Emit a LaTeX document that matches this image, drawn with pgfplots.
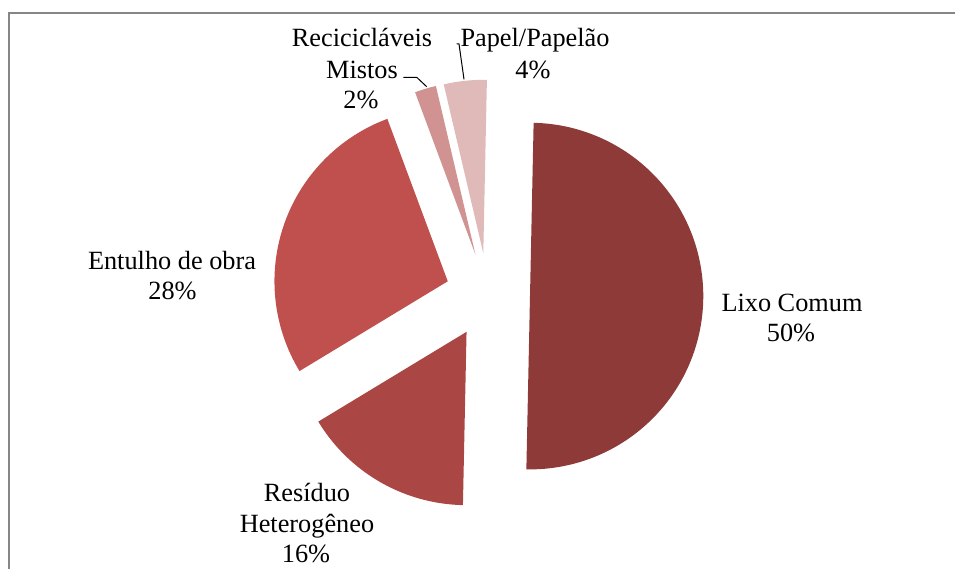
\documentclass[border=0pt]{standalone}
\usepackage{pgfplots}
\pgfplotsset{compat=1.18}
\usepackage{fontspec}
\setmainfont{Liberation Serif}
\definecolor{cLixo}{HTML}{8E3A38}
\definecolor{cRes}{HTML}{AA4644}
\definecolor{cEnt}{HTML}{C0504D}
\definecolor{cRec}{HTML}{D19391}
\definecolor{cPap}{HTML}{E0BAB9}
\definecolor{cFrame}{HTML}{868686}
\newcommand\lbl{\fontsize{26.3}{30}\selectfont}
% pie geometry (pixel units, y downwards)
\def\pcx{487.7}\def\pcy{295.2}\def\pieR{173.3}\def\pexp{42.3}\def\prot{-1.2}
\gdef\cum{0}
% #1 colour, #2 percentage
\newcommand\pieslice[2]{%
  \pgfmathsetmacro\aS{90+\prot-3.6*\cum}%
  \pgfmathsetmacro\aE{\aS-3.6*(#2)}%
  \pgfmathsetmacro\aM{(\aS+\aE)/2}%
  \pgfmathsetmacro\ox{\pcx+\pexp*cos(\aM)}%
  \pgfmathsetmacro\oy{\pcy-\pexp*sin(\aM)}%
  \pgfmathsetmacro\newcum{\cum+#2}%
  \xdef\cum{\newcum}%
  \edef\doslice{\noexpand\addplot[fill=#1,draw=none,domain=\aE:\aS,samples=120,variable=\noexpand\t]
    ({\ox+\pieR*cos(\noexpand\t)},{\oy-\pieR*sin(\noexpand\t)}) -- (axis cs:\ox,\oy) -- cycle;}%
  \doslice
}
\begin{document}
\begin{tikzpicture}
\path[use as bounding box] (0,0) rectangle (955pt,569pt);
\begin{axis}[
  at={(0,0)}, anchor=south west,
  width=955pt, height=569pt, scale only axis,
  xmin=0, xmax=955, ymin=0, ymax=569, y dir=reverse,
  hide axis, clip=false]
  % slices: Lixo Comum 50, Residuo Heterogeneo 16, Entulho de obra 28, Reciclaveis Mistos 2, Papel/Papelao 4
  \pieslice{cLixo}{50}
  \pieslice{cRes}{16}
  \pieslice{cEnt}{28}
  \pieslice{cRec}{2}
  \pieslice{cPap}{4}
  % frame
  \draw[cFrame, line width=2pt] (axis cs:9,575) -- (axis cs:9,13) -- (axis cs:962,13);
  % leader lines
  \draw[black, line width=1pt] (axis cs:403.3,77.3) -- (axis cs:416.7,77.3) -- (axis cs:426.7,86.7);
  \draw[black, line width=1pt] (axis cs:456.7,44) -- (axis cs:459,44) -- (axis cs:464,79.3);
  % labels
  \node[anchor=base, font=\lbl, inner sep=0pt] at (axis cs:792,311.7) {Lixo Comum};
  \node[anchor=base, font=\lbl, inner sep=0pt] at (axis cs:791,341.7) {50\%};
  \node[anchor=base, font=\lbl, inner sep=0pt] at (axis cs:307,501.7) {Resíduo};
  \node[anchor=base, font=\lbl, inner sep=0pt] at (axis cs:307,532.5) {Heterogêneo};
  \node[anchor=base, font=\lbl, inner sep=0pt] at (axis cs:306,562.3) {16\%};
  \node[anchor=base, font=\lbl, inner sep=0pt] at (axis cs:172,269.3) {Entulho de obra};
  \node[anchor=base, font=\lbl, inner sep=0pt] at (axis cs:172.5,299.3) {28\%};
  \node[anchor=base, font=\lbl, inner sep=0pt] at (axis cs:362,46.7) {Recicicláveis};
  \node[anchor=base, font=\lbl, inner sep=0pt] at (axis cs:362,78.3) {Mistos};
  \node[anchor=base, font=\lbl, inner sep=0pt] at (axis cs:361,108.3) {2\%};
  \node[anchor=base, font=\lbl, inner sep=0pt] at (axis cs:535,46.7) {Papel/Papelão};
  \node[anchor=base, font=\lbl, inner sep=0pt] at (axis cs:533,78.3) {4\%};
\end{axis}
\end{tikzpicture}
\end{document}
